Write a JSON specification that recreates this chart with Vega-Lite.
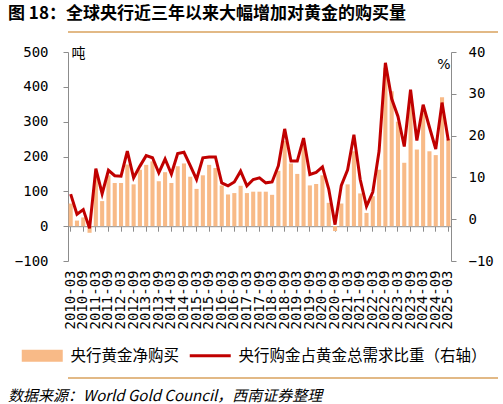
{
  "$schema": "https://vega.github.io/schema/vega-lite/v6.json",
  "padding": {"left": 5, "right": 5, "top": 5, "bottom": 2},
  "background": "white",
  "config": {"font": "Noto Sans CJK SC", "view": {"stroke": null}},
  "title": {"text": "图 18：全球央行近三年以来大幅增加对黄金的购买量", "anchor": "start", "frame": "bounds", "fontSize": 17, "fontWeight": "bold", "font": "Noto Sans CJK SC", "color": "#000000", "offset": -12, "dx": 3},
  "spacing": 12,
  "resolve": {"legend": {"fill": "independent", "stroke": "independent"}},
  "datasets": {
    "q": [
      {"q": "2010-03", "tons": 65, "pct": 6.0},
      {"q": "2010-06", "tons": 16, "pct": 1.2},
      {"q": "2010-09", "tons": 25, "pct": 2.3},
      {"q": "2010-12", "tons": -19, "pct": -2.2},
      {"q": "2011-03", "tons": 140, "pct": 12.1},
      {"q": "2011-06", "tons": 72, "pct": 6.1},
      {"q": "2011-09", "tons": 146, "pct": 11.7},
      {"q": "2011-12", "tons": 124, "pct": 10.4},
      {"q": "2012-03", "tons": 124, "pct": 10.3},
      {"q": "2012-06", "tons": 177, "pct": 16.3},
      {"q": "2012-09", "tons": 120, "pct": 9.9},
      {"q": "2012-12", "tons": 162, "pct": 12.7},
      {"q": "2013-03", "tons": 176, "pct": 15.2},
      {"q": "2013-06", "tons": 186, "pct": 14.7},
      {"q": "2013-09", "tons": 129, "pct": 11.1},
      {"q": "2013-12", "tons": 155, "pct": 14.4},
      {"q": "2014-03", "tons": 124, "pct": 10.8},
      {"q": "2014-06", "tons": 172, "pct": 15.7},
      {"q": "2014-09", "tons": 180, "pct": 16.0},
      {"q": "2014-12", "tons": 142, "pct": 12.8},
      {"q": "2015-03", "tons": 107, "pct": 9.5},
      {"q": "2015-06", "tons": 146, "pct": 14.7},
      {"q": "2015-09", "tons": 176, "pct": 14.9},
      {"q": "2015-12", "tons": 167, "pct": 14.9},
      {"q": "2016-03", "tons": 117, "pct": 8.7},
      {"q": "2016-06", "tons": 91, "pct": 8.0},
      {"q": "2016-09", "tons": 95, "pct": 8.9},
      {"q": "2016-12", "tons": 116, "pct": 11.5},
      {"q": "2017-03", "tons": 95, "pct": 8.0},
      {"q": "2017-06", "tons": 99, "pct": 9.5},
      {"q": "2017-09", "tons": 99, "pct": 9.9},
      {"q": "2017-12", "tons": 99, "pct": 8.7},
      {"q": "2018-03", "tons": 90, "pct": 8.9},
      {"q": "2018-06", "tons": 159, "pct": 12.8},
      {"q": "2018-09", "tons": 245, "pct": 21.6},
      {"q": "2018-12", "tons": 180, "pct": 13.9},
      {"q": "2019-03", "tons": 150, "pct": 13.9},
      {"q": "2019-06", "tons": 232, "pct": 19.4},
      {"q": "2019-09", "tons": 117, "pct": 10.7},
      {"q": "2019-12", "tons": 121, "pct": 11.2},
      {"q": "2020-03", "tons": 146, "pct": 12.5},
      {"q": "2020-06", "tons": 67, "pct": 7.2},
      {"q": "2020-09", "tons": -14, "pct": -1.3},
      {"q": "2020-12", "tons": 65, "pct": 8.1},
      {"q": "2021-03", "tons": 120, "pct": 11.8},
      {"q": "2021-06", "tons": 215, "pct": 20.2},
      {"q": "2021-09", "tons": 94, "pct": 9.5},
      {"q": "2021-12", "tons": 38, "pct": 3.1},
      {"q": "2022-03", "tons": 86, "pct": 6.5},
      {"q": "2022-06", "tons": 162, "pct": 16.3},
      {"q": "2022-09", "tons": 455, "pct": 37.4},
      {"q": "2022-12", "tons": 387, "pct": 28.8},
      {"q": "2023-03", "tons": 300, "pct": 24.6},
      {"q": "2023-06", "tons": 182, "pct": 17.4},
      {"q": "2023-09", "tons": 355, "pct": 31.0},
      {"q": "2023-12", "tons": 220, "pct": 18.8},
      {"q": "2024-03", "tons": 326, "pct": 27.4},
      {"q": "2024-06", "tons": 215, "pct": 22.0},
      {"q": "2024-09", "tons": 204, "pct": 16.8},
      {"q": "2024-12", "tons": 370, "pct": 27.9},
      {"q": "2025-03", "tons": 250, "pct": 18.8}
    ]
  },
  "vconcat": [
    {
      "width": 430,
      "height": 20,
      "data": {"values": [{}]},
      "mark": {"type": "point", "size": 0, "opacity": 0},
      "encoding": {},
      "view": {"stroke": "#D8A25E", "strokeWidth": 1.5, "strokeDash": [0, 450, 430, 20]}
    },
    {
      "width": 383,
      "height": 209,
      "data": {"name": "q"},
      "layer": [
        {
          "mark": {"type": "bar"},
          "encoding": {
            "x": {
              "field": "q", "type": "ordinal", "sort": null,
              "scale": {"paddingInner": 0.35, "paddingOuter": 0.1},
              "axis": {
                "orient": "bottom", "title": null, "domain": false, "ticks": false, "tickSize": 0,
                "labelPadding": 9, "labelAngle": -90, "labelFont": "DejaVu Sans Mono", "labelFontSize": 14,
                "labelColor": "#000000", "labelOverlap": false,
                "values": ["2010-03","2010-09","2011-03","2011-09","2012-03","2012-09","2013-03","2013-09","2014-03","2014-09","2015-03","2015-09","2016-03","2016-09","2017-03","2017-09","2018-03","2018-09","2019-03","2019-09","2020-03","2020-09","2021-03","2021-09","2022-03","2022-09","2023-03","2023-09","2024-03","2024-09","2025-03"]
              }
            },
            "y": {
              "field": "tons", "type": "quantitative",
              "scale": {"domain": [-100, 500], "nice": false, "zero": false},
              "axis": {
                "orient": "left", "values": [-100, 0, 100, 200, 300, 400, 500], "grid": false,
                "domainColor": "#8C8C8C", "tickColor": "#8C8C8C", "tickSize": 5, "labelPadding": 15,
                "labelFont": "DejaVu Sans Mono", "labelFontSize": 14, "labelColor": "#000000", "minExtent": 63,
                "title": "吨", "titleAngle": 0, "titleX": 3, "titleY": -6, "titleAlign": "left", "titleBaseline": "top",
                "titleFontSize": 14, "titleFontWeight": "normal", "titleFont": "Noto Sans CJK SC", "titleColor": "#000000"
              }
            },
            "fill": {
              "datum": "央行黄金净购买", "type": "nominal",
              "scale": {"range": ["#F8BA87"]},
              "legend": {
                "orient": "none", "legendX": -48, "legendY": 296, "title": null,
                "symbolType": "M-1,-1H5.833V1H-1Z", "symbolSize": 144, "symbolStrokeWidth": 0, "symbolOpacity": 1,
                "labelOffset": 35, "labelFontSize": 15.5, "labelFont": "Noto Sans CJK SC", "labelColor": "#000000", "labelLimit": 400
              }
            }
          }
        },
        {
          "mark": {"type": "line", "strokeWidth": 3},
          "encoding": {
            "x": {
              "field": "q", "type": "ordinal", "sort": null,
              "axis": {
                "orient": "bottom", "offset": -34.8, "title": null, "labels": false,
                "domainColor": "#8C8C8C", "tickColor": "#8C8C8C", "tickSize": 5,
                "values": ["2010-03","2010-09","2011-03","2011-09","2012-03","2012-09","2013-03","2013-09","2014-03","2014-09","2015-03","2015-09","2016-03","2016-09","2017-03","2017-09","2018-03","2018-09","2019-03","2019-09","2020-03","2020-09","2021-03","2021-09","2022-03","2022-09","2023-03","2023-09","2024-03","2024-09","2025-03"]
              }
            },
            "y": {
              "field": "pct", "type": "quantitative",
              "scale": {"domain": [-10, 40], "nice": false, "zero": false},
              "axis": {
                "orient": "right", "values": [-10, 0, 10, 20, 30, 40], "grid": false,
                "domainColor": "#8C8C8C", "tickColor": "#8C8C8C", "tickSize": 5, "labelPadding": 12,
                "labelFont": "DejaVu Sans Mono", "labelFontSize": 14, "labelColor": "#000000",
                "title": "%", "titleAngle": 0, "titleX": -1, "titleY": 5, "titleAlign": "right", "titleBaseline": "top",
                "titleFontSize": 14, "titleFontWeight": "normal", "titleFont": "DejaVu Sans", "titleColor": "#000000"
              }
            },
            "stroke": {
              "datum": "央行购金占黄金总需求比重（右轴）", "type": "nominal",
              "scale": {"range": ["#C00000"]},
              "legend": {
                "orient": "none", "legendX": 120, "legendY": 296, "title": null,
                "symbolType": "M-1,0H5.833", "symbolSize": 144, "symbolStrokeWidth": 3, "symbolFillColor": "transparent",
                "labelOffset": 35, "labelFontSize": 15.5, "labelFont": "Noto Sans CJK SC", "labelColor": "#000000", "labelLimit": 400
              }
            }
          }
        }
      ],
      "resolve": {"scale": {"y": "independent"}, "axis": {"x": "independent"}}
    },
    {
      "width": 430,
      "height": 20,
      "data": {"values": [{}]},
      "mark": {"type": "point", "size": 0, "opacity": 0},
      "encoding": {},
      "view": {"stroke": "#D8A25E", "strokeWidth": 1.5, "strokeDash": [430, 470]},
      "title": {"text": "数据来源：World Gold Council，西南证券整理", "orient": "bottom", "anchor": "start", "frame": "bounds", "fontStyle": "italic", "fontWeight": "normal", "fontSize": 15, "font": "Noto Sans CJK SC", "color": "#000000", "offset": -9, "dx": -60}
    }
  ]
}
